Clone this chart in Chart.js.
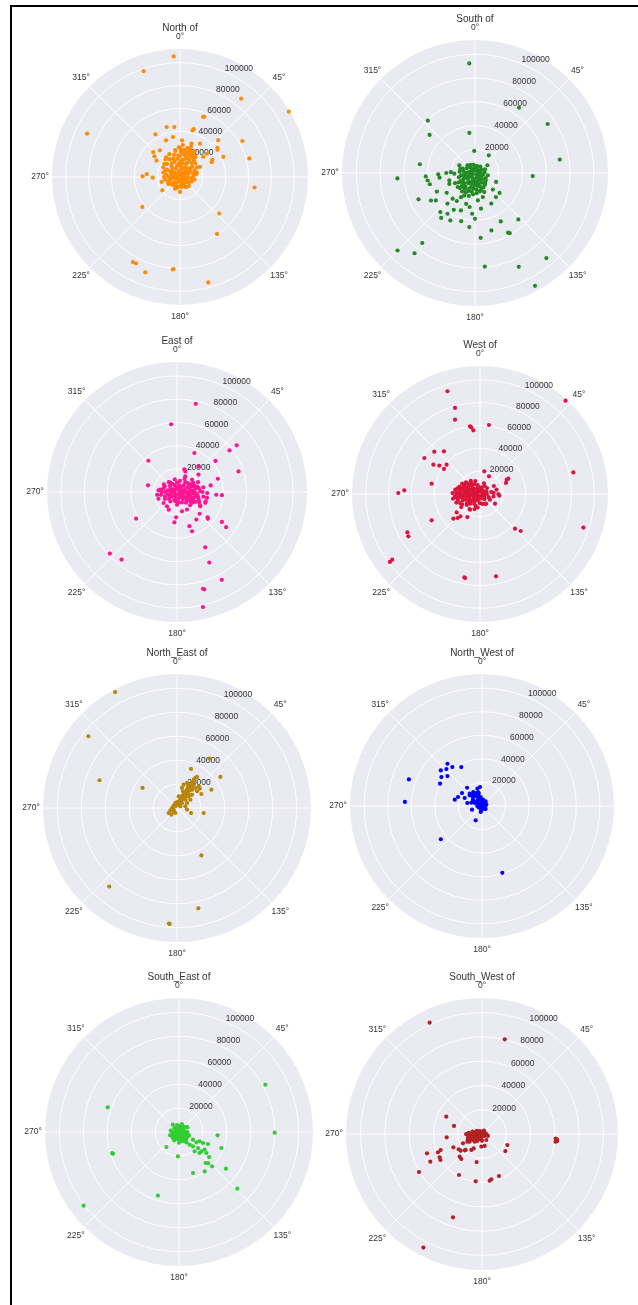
<!DOCTYPE html>
<html>
<head>
<meta charset="utf-8">
<script src="https://cdn.jsdelivr.net/npm/chart.js@4.4.1/dist/chart.umd.min.js"></script>
<style>
  body { margin: 0; background: #fff; width: 638px; height: 1305px; position: relative; overflow: hidden; }
  #frame { position: absolute; left: 10px; top: 5px; width: 640px; height: 1310px; border-left: 2px solid #000; border-top: 2px solid #000; }
  canvas { position: absolute; }
</style>
</head>
<body>
<div id="frame"></div>
<script>
// radial axis
const radialMax = 112000;
const radialTicks = [20000, 40000, 60000, 80000, 100000];
const radialLabels = ["20000", "40000", "60000", "80000", "100000"];
// angular axis (0 at top, clockwise)
const angleTicks = [0, 45, 90, 135, 180, 225, 270, 315];
const angleLabels = ["0°", "45°", "90°", "135°", "180°", "225°", "270°", "315°"];
const shownAngles = [0, 45, 135, 180, 225, 270, 315];

const titles = ["North of", "South of", "East of", "West of", "North_East of", "North_West of", "South_East of", "South_West of"];
const colors = ["#FF8C00", "#228B22", "#FF1493", "#DC143C", "#B8860B", "#0000FF", "#32CD32", "#B22222"];

// points: [angle in degrees, radius in thousands]
const northPts = [
  [357,105.7],[341,97.9],[38,87],[59,111],[295,89.8],[21,56.3],[22,56.8],[60,63],[75,62.8],[98,65.9],[133,46.8],[147,59.4],
  [165,95.5],[184,80.7],[184.5,81.2],[200,88.8],[209,85.1],[207,84.8],[231.5,42.1],[271,32.7],[65,41.8],[46,46.4],[345,45.3],
  [353.5,44],[330,43.1],[15,42.2],[16,43.5],[65,30.6],[62,32],[54,40.5],[52,41.5],[313,32],[309,28.8],[275,29.2],[268.6,23.9],
  [233,19.4],[180,13.1],[31,34],
  [63,19.6],[49,26.9],[79,14.9],[106,10.6],[203,11.1],[255,16.6],[305,25.1],[323,29.2],[339,34.3],[350,35.5],[3,32.1],[19,30.9],
  [49,31],[146,10.5],[247,11.1],
  [0,2],[120,2],[240,2],[30,4],[100,4],[170,4],[250,4],[320,4],[5,6],[60,6],[115,6],[165,6],[210,6],[265,6],[310,6],
  [20,8],[70,8],[125,8],[180,8],[228,8],[285,8],[335,8],[0,10],[40,10],[95,10],[150,10],[195,10],[250,10],[300,10],[345,10],
  [12,12],[50,12],[85,12],[135,11],[240,12],[280,12],[322,12],[3,14],[28,14],[65,14],[100,13],[260,13],[295,14],[340,14],
  [15,16],[40,16],[75,15],[285,15],[315,16],[352,16],[0,18],[22,18],[48,18],[300,17],[330,18],[10,20],[32,20],[345,20],
  [320,20],[2,22],[18,22],[38,22],[335,22],[8,24],[25,24],[350,24],[14,26],[358,26],[30,26],[5,28],[20,28],
  [50,2],[180,3],[300,3],[65,5],[140,5],[200,4],[280,5],[350,5],[45,7],[95,7],[150,7],[230,7],[260,8],[305,8],[10,8],
  [30,10],[60,10],[120,9],[170,9],[220,9],[270,10],[320,10],[355,12],[25,13],[75,12],[110,11],[200,9],[230,10],[300,13],
  [330,14],[8,15],[50,14],[80,14],[270,14],[340,17],[28,17],[60,17],[310,18],[355,19],[15,19],[40,19],[325,21],[5,21],
  [25,21],[350,23],[12,23],[30,23],[20,25],[0,25]
];
const southPts = [
  [357,92.4],[34,66.3],[56,73.8],[81,72.3],[93,48.7],[318,59.4],[310,49.9],[352,34.1],[279,47],[266,65.5],[245,52.5],
  [217,73.8],[225,92.3],[217,84.6],[174,79.2],[155,87.2],[140,93.5],[152,107.6],[175,54.8],[164,50.3],[152,46.2],[151,57.5],
  [150,58.5],[137,53.5],[38,18.9],[58,12.3],[358,18.6],[129,26.6],[113,19.3],
  [266,41.5],[261,40.4],[256,39.2],[268,31],[262.5,30.1],[270,24.2],[244,35.7],[235,29.1],[222,34.7],[238,43.7],[235,40.2],
  [221,28.7],[213,28.1],[210,23.5],[205.5,20.9],[221.6,44],[214,41.4],[210,35.8],[200.6,33.7],[196,27],[189,29],[184,34.4],
  [180,38.6],[186,45.8],[196,42.2],[207.5,45],[217,47.4],[231,18.8],[247,23.5],[212.5,15.7],[174,23.2],[162,21.3],[154,17.9],
  [133,20.5],[139,26.9],[152,29.2],[170.5,30.5],[268,17.4],[296,14.7],[286,12.9],[272,20.3],[254,22.5],[243,18.9],
  [0,2],[120,2],[240,2],[20,4],[90,4],[160,4],[220,4],[290,4],[340,4],[10,6],[60,6],[110,6],[150,6],[190,6],[235,6],[275,6],
  [320,6],[40,7],[85,8],[130,8],[170,8],[205,8],[250,8],[300,8],[350,7],[70,9],[115,10],[145,10],[180,10],[215,10],[245,10],
  [280,10],[315,9],[100,11],[135,12],[160,12],[195,12],[225,12],[260,12],[290,11],[150,14],[175,14],[200,14],[228,14],
  [255,14],[165,16],[190,16],[215,16],[240,16],[185,18],[205,18],[225,18],
  [50,3],[150,3],[260,3],[320,3],[70,5],[130,5],[200,5],[250,5],[20,6],[100,7],[140,7],[180,7],[230,8],[270,8],[330,8],
  [160,9],[195,9],[210,10],[260,10],[125,11],[170,11],[240,12],[275,13],[140,13],[185,13],[215,14],[160,15],[240,14],
  [200,16],[175,17],[225,16],[195,20],[215,19]
];
const eastPts = [
  [12,77.7],[355,58.6],[52,65.3],[51.6,57.7],[71.5,55.9],[51,42.6],[24,36.8],[317.5,36.5],[283,25.6],[237,42],[227.5,78.5],
  [219.4,75.3],[153,53.5],[155.4,66.8],[153,84.9],[164.4,87.1],[165,86.3],[167.3,101.6],[123.7,46.5],[125.6,52.1],[129.6,34.2],
  [131,35.2],[134,27.1],[145,29],[159,36.2],[160,31.3],[185,26.2],[182,21.8],[94,33.9],[94,38.8],[72,37],[79,29.5],[51,23.8],
  [40,28.9],[22,19.1],[18,20.5],[262,17.3],[295,11.7],[205,16.8],
  [101,26.3],[111,26.1],[121.6,23.5],[230.5,14.9],[215,15],[278,14.5],[150.5,17.4],[165.5,17.2],[50.6,16.7],[28,15.2],
  [30,2],[150,2],[270,2],[0,4],[70,4],[130,4],[200,4],[280,4],[20,6],[80,6],[120,6],[170,6],[230,6],[290,6],[340,6],
  [45,8],[95,8],[140,8],[190,8],[255,8],[310,8],[0,8],[15,10],[65,10],[105,10],[155,10],[215,10],[270,10],[325,10],
  [50,12],[85,12],[115,12],[140,12],[240,12],[285,12],[350,11],[70,14],[95,14],[125,14],[260,14],[300,13],[30,13],
  [60,16],[80,16],[105,16],[135,16],[275,16],[75,18],[100,18],[118,18],[250,17],[88,20],[110,20],[65,20],[80,23],
  [100,23],[120,23],[92,26],[108,26],
  [60,3],[110,3],[220,3],[320,3],[40,5],[100,5],[150,5],[260,5],[300,5],[70,7],[130,7],[200,7],[240,7],[330,8],[90,9],
  [120,9],[170,9],[230,9],[280,8],[40,11],[75,11],[100,11],[130,11],[180,11],[250,11],[320,11],[60,13],[85,13],[110,13],
  [270,13],[90,15],[115,15],[70,16],[95,17],[125,16],[80,19],[105,19],[90,22],[115,21]
];
const westPts = [
  [342.4,94.3],[343.8,78.4],[341.4,68.6],[351.6,59.9],[352.5,58.8],[354,56],[7.4,60.9],[42.5,110.8],[77,83.8],[108,95.1],
  [134.7,43.1],[132.3,48.1],[169,73.4],[190.1,74.7],[190.6,74.2],[233,98.7],[233.2,95.9],[242.2,71.9],[239.4,72.8],[241.4,48.2],
  [227.2,31.8],[223,28.7],[221.4,26],[208.8,23],[270.7,71.5],[272.8,66.3],[282,43.3],[302.9,58],[312.8,54.5],[319.8,48.9],
  [302.2,48.2],[304.9,43.4],[304.8,38.4],[311.3,38.9],[61.7,26.5],[61.6,28.2],[67,24.7],[122.8,15.6],[148,10],[10.8,20.2],
  [27,17.4],[231.8,26],[212.5,16.3],[75,15],[95,17],[85,12],
  [0,2],[120,2],[240,2],[40,4],[100,4],[170,4],[220,4],[280,4],[330,4],[10,6],[70,6],[140,6],[200,6],[250,6],[290,6],
  [320,6],[50,8],[110,8],[180,8],[230,8],[265,8],[300,8],[345,8],[80,10],[150,10],[210,10],[245,10],[275,10],[315,10],
  [20,10],[100,12],[190,12],[225,12],[258,12],[285,12],[305,12],[340,12],[200,14],[235,14],[265,14],[280,14],[295,14],
  [325,14],[60,14],[215,16],[250,16],[270,16],[290,16],[310,16],[90,16],[240,18],[262,18],[278,18],[300,18],[255,20],
  [270,20],[285,20],[235,20],[265,22],[280,22],[250,22],[272,24],[260,24],
  [60,3],[180,3],[300,3],[20,4],[130,5],[240,5],[270,5],[350,5],[90,6],[215,7],[260,7],[285,7],[310,7],[30,8],[165,9],
  [230,10],[255,10],[290,10],[330,10],[120,10],[200,11],[240,12],[270,12],[295,11],[320,12],[250,14],[275,13],[310,14],
  [230,15],[260,16],[282,17],[300,16],[270,18],[245,19],[290,19],[262,21],[275,21]
];
const northEastPts = [
  [331.9,109.8],[309,95.3],[289.7,68.8],[300.2,33.3],[220.8,86.7],[183.6,97.1],[184,96.8],[168,85.7],[152.8,44.6],[54.4,44.6],
  [33.2,49.4],[19.7,34.7],[61.9,32.6],[100.6,22.7],[60.1,23.5],[49.5,25],[109.7,12.5],
  [239,8.1],[250.7,5.9],[270,4.2],[305,3.4],[341.6,4.4],[0,2.8],[14,5.8],[20.3,8],[23.2,10.6],[26.6,12.5],[19.8,14.8],[28,14.9],
  [28.6,17.5],[29,20.1],[29.7,22.5],[30.3,24.9],[30.5,27.5],[31.4,29.5],[32.8,30.9],[34.7,22.1],[42.5,22.7],[45,25.7],
  [50.2,21.8],[45,13.8],[45,9.9],[45,5.9],[63,3.1],[63.4,9.4],[58,13.2],[48.4,16.8],[8.1,9.9],[14,17.3],[15.9,20.3],
  [21.8,22.6],[243,3.1],[220,7.3],[198,4.4],[99,8.5],[78.7,7.1],[36,18],[38,11],[33,7],
  [35,3],[28,5],[32,9],[25,11],[34,13],[30,16],[33,19],[27,20],[35,24],[33,26],[40,20],[38,15],[31,11],[24,7],[40,5],
  [0,5],[330,2],[220,4]
];
const northWestPts = [
  [290,66],[273,65.5],[298,40.3],[305.5,42.3],[310.8,46.2],[320.7,46.3],[316,43.5],[322.7,41.5],[310.9,38.8],[332,37.4],
  [231.1,44.9],[163.1,59.3],[203.8,13.3],[250,9],[354,16.2],[320.7,20],[283,23.7],[290.6,21.7],[303,20.2],[294.8,16.2],
  [315,14.8],[281.6,12.7],[192,5.2],
  [76,2.3],[69,3.9],[33.7,3.1],[350.5,3.4],[339.8,5.7],[332.6,8.6],[325.5,11],[319.4,13],[310.9,13.8],[336.4,12],[344.9,10.8],
  [351.6,7.7],[9,5.4],[110.6,2.4],[159.4,2.4],[233,1.4],[300,3.9],[292.2,6.7],[287.4,9.5],[305,9.3],[286,2.1],[188.7,3.7],
  [38,5],[345,15.2],[90,3],[130,4],[60,1.5],
  [80,1],[45,2],[320,6],[330,10],[315,11],[340,8],[0,4],[20,2],[300,6],[295,8],[100,2],[150,1],[200,2],[240,3],[270,4],
  [345,12],[328,14]
];
const southEastPts = [
  [61.3,82.3],[90.4,80],[289.1,63.1],[251.8,58.1],[252.5,58.6],[232.3,100.7],[198.3,56],[134.2,68],[128,49.8],[161.1,36.2],
  [146.9,39.3],[139.3,34.2],[136.9,35.7],[136.1,39.8],[129.8,32.7],[110.7,37.8],[94.9,32.4],[182.4,20.4],[220.2,16.4],
  [270,6],[240,6.5],[225,7],
  [118.7,13.3],[120.8,16.9],[114.3,18.9],[114.6,22.1],[112.5,26.2],[135.7,16.7],[130.1,20.8],[130.9,24.7],[124.5,26],
  [127.5,28.8],[141,20.8],[135.5,24.6],[144.6,10.6],[139.9,13.8],[238,6.9],[57.5,7.3],[30.5,5.5],
  [0,1],[60,2],[180,2],[300,2],[20,3],[110,3],[200,3],[280,3],[150,4],[240,4],[330,4],[70,4],[0,5],[90,5],[130,5],
  [170,5],[215,5],[260,5],[310,5],[45,6],[115,6],[150,6],[195,6],[235,6],[345,6],[100,7],[140,7],[165,7],[280,7],
  [20,7],[125,8],[155,8],[210,8],[250,8],[320,8],[60,8],[110,9],[140,9],[180,9],
  [90,2],[210,2],[330,3],[160,3],[250,3],[120,5],[190,4],[30,4],[150,6],[220,6],[90,7],[130,7],[180,6],[110,8],[160,8]
];
const southWestPts = [
  [334.8,101.3],[13.5,80.2],[94.6,61.4],[93.5,60.8],[95.5,62],[94,61.9],[96,60.9],[113.5,22.8],[126.1,23.8],[158,37.3],
  [168.4,38.1],[170.7,39],[187.6,39.3],[209.3,38.7],[190.8,23.5],[199.2,72.7],[207.3,105.3],[238.9,60.6],[250.6,48],
  [241.8,48.3],[247.4,39.3],[248.8,36.5],[241.1,39.8],[238,40.4],[295.9,32.7],[286,24],[264.6,29.2],[245.1,26],[236.7,23],
  [232,22.3],[224.6,26.2],[219.6,26.7],[225.6,18.8],[226.5,19.5],[243.8,17.4],[213.7,15.8],[210.2,13.7],[183,10.4],
  [167.5,10.1],[268.8,12.9],[242.4,13.6],
  [273.6,8.8],[280,6.1],[296.6,3.7],[344,2],[63,2.5],[90,3.6],[127,2.7],[191,2.8],[222.7,4.9],[239.4,7],[252.6,9.2],
  [260.8,10.3],[263.7,7.5],[260,4.7],[246.8,2.1],[135,1.2],[286,2],[250.6,4.9],[236.3,8.9],[249,12.3],[270,12.9],
  [180,5.5],[144,6.1],[108,5.2],[31,3.2],[223.7,8.7],[238.1,12],[194,4.5],[213.7,6.9],
  [270,6],[255,6],[265,9],[275,11],[285,8],[240,5],[230,6],[300,5],[320,3],[40,2],[100,2],[200,3],[270,3],[255,12],[245,10]
];

const seriesList = [northPts, southPts, eastPts, westPts, northEastPts, northWestPts, southEastPts, southWestPts];

// where each polar axes sits on the page: centre and radius in px
const panels = [
  { cx: 180, cy: 177, r: 128 }, { cx: 475, cy: 173, r: 133 },
  { cx: 177, cy: 492, r: 130 }, { cx: 480, cy: 494, r: 128 },
  { cx: 177, cy: 808, r: 134 }, { cx: 482, cy: 806, r: 132 },
  { cx: 179, cy: 1132, r: 134 }, { cx: 482, cy: 1134, r: 136 }
];
const pad = 34;
const fontFamily = '"Liberation Sans", Arial, sans-serif';

const polarGrid = {
  id: "polarGrid",
  beforeDatasetsDraw(chart) {
    const { ctx, scales: { x, y } } = chart;
    const cx = x.getPixelForValue(0), cy = y.getPixelForValue(0);
    const R = x.getPixelForValue(radialMax) - cx;
    ctx.save();
    ctx.fillStyle = "#EAEAF2";
    ctx.beginPath();
    ctx.arc(cx, cy, R, 0, Math.PI * 2);
    ctx.fill();
    ctx.strokeStyle = "#fff";
    ctx.lineWidth = 1;
    radialTicks.forEach(t => {
      const r = x.getPixelForValue(t) - cx;
      ctx.beginPath();
      ctx.arc(cx, cy, r, 0, Math.PI * 2);
      ctx.stroke();
    });
    angleTicks.forEach(a => {
      const rad = a * Math.PI / 180;
      ctx.beginPath();
      ctx.moveTo(cx, cy);
      ctx.lineTo(cx + R * Math.sin(rad), cy - R * Math.cos(rad));
      ctx.stroke();
    });
    // r labels sit along 22.5 deg
    ctx.fillStyle = "#333";
    ctx.font = "8.5px " + fontFamily;
    ctx.textAlign = "left";
    ctx.textBaseline = "bottom";
    const la = 22.5 * Math.PI / 180;
    radialTicks.forEach((t, i) => {
      const r = x.getPixelForValue(t) - cx;
      ctx.fillText(radialLabels[i], cx + r * Math.sin(la) + 1, cy - r * Math.cos(la) + 1);
    });
    ctx.restore();
  },
  afterDraw(chart, args, opts) {
    const { ctx, scales: { x, y } } = chart;
    const cx = x.getPixelForValue(0), cy = y.getPixelForValue(0);
    const R = x.getPixelForValue(radialMax) - cx;
    ctx.save();
    ctx.fillStyle = "#333";
    ctx.font = "8.5px " + fontFamily;
    ctx.textAlign = "center";
    ctx.textBaseline = "middle";
    angleTicks.forEach((a, i) => {
      if (!shownAngles.includes(a)) return;
      const rad = a * Math.PI / 180;
      ctx.fillText(angleLabels[i], cx + (R + 12) * Math.sin(rad), cy - (R + 12) * Math.cos(rad));
    });
    ctx.font = "10px " + fontFamily;
    ctx.fillText(opts.title, cx, cy - R - 21);
    ctx.restore();
  }
};

panels.forEach((p, i) => {
  const canvas = document.createElement("canvas");
  const size = 2 * p.r + 2 * pad;
  canvas.width = size;
  canvas.height = size;
  canvas.style.left = (p.cx - p.r - pad) + "px";
  canvas.style.top = (p.cy - p.r - pad) + "px";
  document.body.appendChild(canvas);

  const pts = seriesList[i].map(([deg, rk]) => {
    const rad = deg * Math.PI / 180;
    return { x: rk * 1000 * Math.sin(rad), y: rk * 1000 * Math.cos(rad) };
  });

  new Chart(canvas.getContext("2d"), {
    type: "scatter",
    data: {
      datasets: [{
        data: pts,
        backgroundColor: colors[i],
        borderWidth: 0,
        pointRadius: 2.1,
        pointHoverRadius: 2.1
      }]
    },
    options: {
      responsive: false,
      animation: false,
      layout: { padding: pad },
      scales: {
        x: { type: "linear", min: -radialMax, max: radialMax, display: false },
        y: { type: "linear", min: -radialMax, max: radialMax, display: false }
      },
      plugins: {
        legend: { display: false },
        tooltip: { enabled: false },
        polarGrid: { title: titles[i] }
      }
    },
    plugins: [polarGrid]
  });
});
</script>
</body>
</html>
